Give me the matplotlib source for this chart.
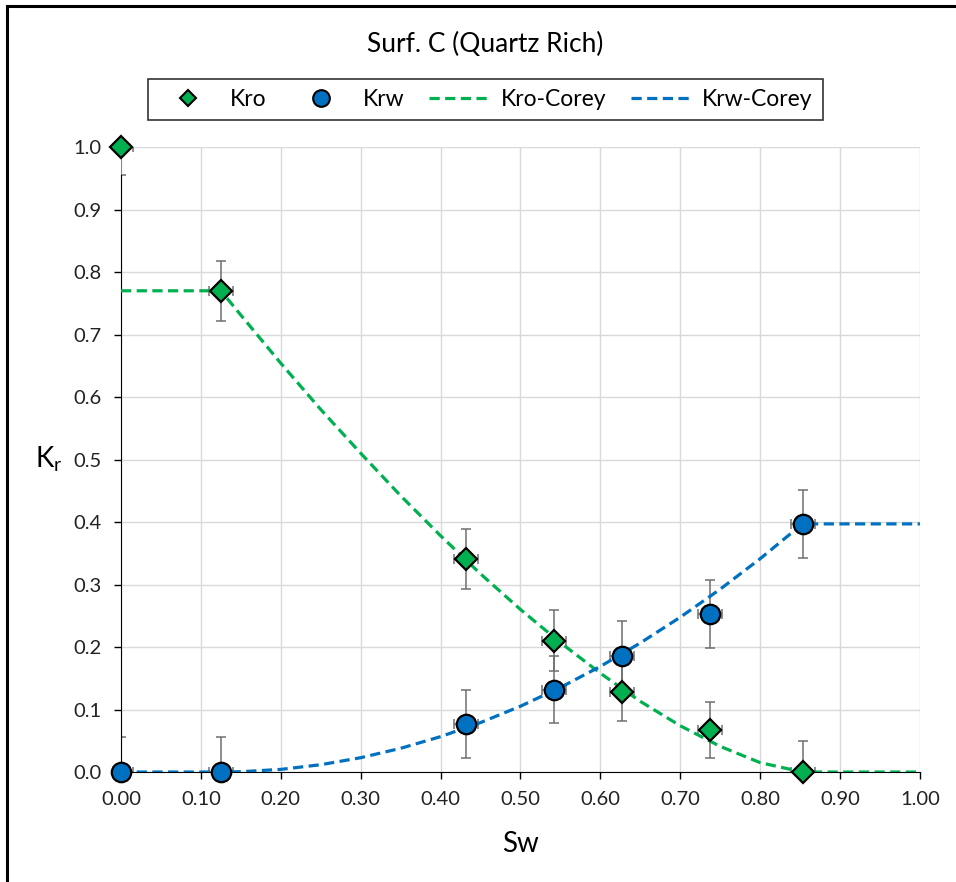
import matplotlib
matplotlib.use('Agg')
import matplotlib.pyplot as plt
from matplotlib.lines import Line2D

plt.rcParams['font.family'] = ['Lato', 'DejaVu Sans']

# measured points
sw = [0.0, 0.125, 0.432, 0.542, 0.627, 0.737, 0.853]
kro = [1.0, 0.770, 0.341, 0.210, 0.128, 0.067, 0.0]
krw = [0.0, 0.0, 0.077, 0.132, 0.186, 0.253, 0.397]
kro_err = [0.045, 0.048, 0.048, 0.049, 0.047, 0.045, 0.049]
krw_err = [0.056, 0.056, 0.055, 0.053, 0.056, 0.055, 0.054]
sw_err = [0.015, 0.015, 0.015, 0.015, 0.015, 0.015, 0.015]

# Corey fit curves
sw_fit = [0.0, 0.125, 0.15, 0.20, 0.25, 0.30, 0.35, 0.40, 0.45, 0.50,
          0.55, 0.60, 0.65, 0.70, 0.75, 0.80, 0.853, 1.0]
kro_fit = [0.770, 0.770, 0.731, 0.654, 0.580, 0.510, 0.442, 0.378, 0.317, 0.260,
           0.207, 0.158, 0.113, 0.074, 0.041, 0.015, 0.0, 0.0]
krw_fit = [0.0, 0.0, 0.0005, 0.0042, 0.0117, 0.0229, 0.0379, 0.0566, 0.0791, 0.1053,
           0.1353, 0.1690, 0.2065, 0.2477, 0.2926, 0.3413, 0.397, 0.397]

green = '#00B050'
blue = '#0070C0'
errc = '#6f6f6f'

fig = plt.figure(figsize=(9.56, 8.82), dpi=100)
ax = fig.add_axes([0.1266, 0.1247, 0.8357, 0.7086])

ax.plot(sw_fit, kro_fit, '--', color=green, lw=2.3, dashes=(3.2, 1.7), zorder=3)
ax.plot(sw_fit, krw_fit, '--', color=blue, lw=2.3, dashes=(3.2, 1.7), zorder=3)

ax.errorbar(sw, kro, yerr=kro_err, xerr=sw_err, fmt='none', ecolor=errc,
            elinewidth=1.1, capsize=3.6, capthick=1.1, zorder=2)
ax.errorbar(sw, krw, yerr=krw_err, xerr=sw_err, fmt='none', ecolor=errc,
            elinewidth=1.1, capsize=3.6, capthick=1.1, zorder=2)

ax.plot(sw, kro, 'D', ms=11, mfc=green, mec='black', mew=1.6, zorder=5, clip_on=False)
ax.plot(sw, krw, 'o', ms=14, mfc=blue, mec='black', mew=1.6, zorder=5, clip_on=False)

ax.set_xlim(0, 1)
ax.set_ylim(0, 1)
ax.set_xticks([i / 10 for i in range(11)])
ax.set_yticks([i / 10 for i in range(11)])
ax.set_xticklabels(['%.2f' % (i / 10) for i in range(11)])
ax.set_yticklabels(['%.1f' % (i / 10) for i in range(11)])
ax.tick_params(labelsize=14.5, length=5, width=1, color='black', labelcolor='#222222')
ax.tick_params(axis='x', pad=9)
ax.tick_params(axis='y', pad=9)
ax.grid(color='#d9d9d9', lw=1)
ax.set_axisbelow(True)
for s in ['top', 'right']:
    ax.spines[s].set_visible(False)
ax.spines['left'].set_bounds(0, 0.955)

ax.set_xlabel('Sw', fontsize=20, labelpad=16)
ax.set_ylabel(r'$\mathregular{K_r}$', fontsize=20, rotation=0, labelpad=18, va='center')

fig.text(0.508, 0.95, 'Surf. C (Quartz Rich)', fontsize=19, ha='center', va='center')

handles = [
    Line2D([], [], ls='none', marker='D', ms=8, mfc=green, mec='black', mew=1.5),
    Line2D([], [], ls='none', marker='o', ms=12, mfc=blue, mec='black', mew=1.5),
    Line2D([], [], ls='--', color=green, lw=2.3, dashes=(3.2, 1.7)),
    Line2D([], [], ls='--', color=blue, lw=2.3, dashes=(3.2, 1.7)),
]
leg = fig.legend(handles, ['Kro', 'Krw', 'Kro-Corey', 'Krw-Corey'], ncol=4,
                 loc='center', bbox_to_anchor=(0.508, 0.887), fontsize=16.5,
                 frameon=True, fancybox=False, edgecolor='black',
                 handlelength=2.6, handletextpad=0.5, columnspacing=1.1, borderpad=0.45)
leg.get_frame().set_linewidth(1.2)

# outer frame lines
fig.add_artist(Line2D([0.0073, 1.0], [0.9932, 0.9932], color='black', lw=2.2, transform=fig.transFigure))
fig.add_artist(Line2D([0.0073, 0.0073], [0.0, 0.9932], color='black', lw=2.2, transform=fig.transFigure))

fig.savefig('out.png', dpi=100)
